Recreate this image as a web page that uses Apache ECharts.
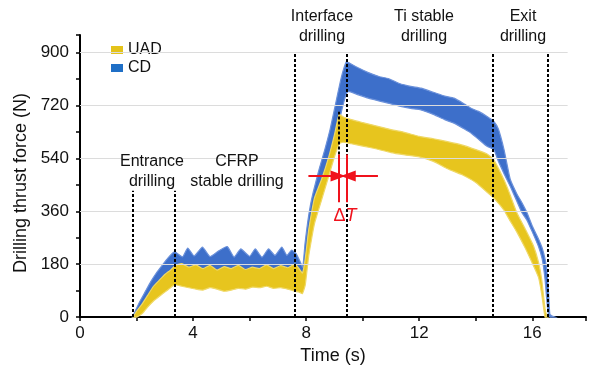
<!DOCTYPE html>
<html><head><meta charset="utf-8">
<script src="https://cdn.jsdelivr.net/npm/echarts@6/dist/echarts.min.js"></script>
<style>html,body{margin:0;padding:0;background:#fff}#c{width:589px;height:370px}</style>
</head><body><div id="c"></div>
<script>
// ---- data ----
const cdT = [1.85,1.95,2.1,2.3,2.5,2.7,2.9,3.1,3.3,3.36,
  3.63,3.81,4.04,4.33,4.6,4.9,5.21,5.45,5.69,6.0,
  6.2,6.44,6.67,6.9,7.14,7.32,7.49,7.65,7.78,7.88,
  7.96,8.05,8.15,8.25,8.45,8.66,8.85,9.02,9.25,9.42,
  9.5,9.8,10.2,10.6,10.9,11.3,11.7,12.06,12.5,12.9,
  13.23,13.6,13.85,14.1,14.4,14.64,14.8,15.0,15.22,15.45,
  15.63,15.81,16.0,16.22,16.35,16.45,16.51,16.57,16.62,16.7,16.8];
const cdUpper = [0,20,50,85,120,150,175,200,220,222,
  205,235,208,238,206,225,240,204,232,207,
  232,204,232,210,238,210,228,215,190,170,
  250,320,380,425,500,570,640,716,818,869,
  866,850,832,818,812,795,785,779,765,752,
  745,725,710,700,683,666,640,570,469,420,
  390,356,310,266,235,198,164,96,10,4,0];
const cdLower = [0,0,10,40,70,100,120,140,155,160,
  155,162,158,160,155,160,158,152,160,155,
  160,152,158,155,160,150,150,130,110,100,
  140,230,300,340,400,460,530,600,700,760,
  768,758,745,735,728,718,710,705,690,672,
  660,640,625,605,581,570,530,488,445,395,
  356,330,290,240,198,130,60,10,0,0,0];

const uadT = [1.88,2.0,2.2,2.4,2.6,2.8,3.0,3.2,3.36,3.6,
  3.85,4.1,4.35,4.6,4.85,5.1,5.35,5.6,5.85,6.1,
  6.35,6.6,6.85,7.1,7.35,7.6,7.75,7.87,7.97,8.08,
  8.2,8.3,8.55,8.8,9.0,9.17,9.3,9.6,10.0,10.5,
  11.0,11.5,12.0,12.5,13.0,13.5,14.0,14.4,14.64,14.99,
  15.2,15.45,15.75,16.04,16.22,16.33,16.45,16.51,16.55];
const uadUpper = [0,20,45,75,105,125,145,160,175,182,
  170,178,165,176,160,172,165,176,162,170,
  165,178,165,175,168,180,165,150,200,290,
  360,407,470,545,620,690,682,672,662,650,
  638,628,615,607,597,586,570,555,535,469,
  420,356,300,243,187,130,29,6,0];
const uadLower = [0,0,12,35,55,70,85,100,110,105,
  100,95,92,100,95,88,92,98,95,102,
  100,105,98,100,95,88,85,80,110,200,
  270,320,400,480,545,590,595,590,582,572,
  560,552,545,530,505,485,458,425,405,365,
  330,290,235,175,135,80,0,0,0];

const seriesNames = ['UAD', 'CD'];
const gridValues = [180, 360, 540, 720, 900];
const phaseT = [1.85, 3.36, 7.61, 9.45, 14.6, 16.54];
const phaseTop = [430, 430, 900, 900, 900, 900];
const deltaT = [9.17, 9.45];       // UAD peak time, CD peak time
const uadPeak = 699;

// ---- styles ----
const FONT = "'Liberation Sans', Arial, sans-serif";
const BLUE = '#3d6fca', YELLOW = '#e7c51e';
const BLUE_LEG = '#1f6fc6', YELLOW_LEG = '#e4c31a';
const RED = '#f0121c';

// band series: polygon between upper and lower envelopes, drawn through api.coord
function bandSeries(name, t, up, lo, color, edge, z) {
  const data = t.map((x, i) => [x, up[i], lo[i]]);
  return {
    type: 'custom', name: name, z: z, silent: true, color: color,
    coordinateSystem: 'cartesian2d',
    encode: {x: 0, y: [1, 2]},
    data: data,
    renderItem: function (params, api) {
      if (params.dataIndex !== 0) return null;
      const pts = [];
      for (let i = 0; i < data.length; i++) pts.push(api.coord([data[i][0], data[i][1]]));
      for (let i = data.length - 1; i >= 0; i--) pts.push(api.coord([data[i][0], data[i][2]]));
      return {
        type: 'polygon', shape: {points: pts, smooth: 0.15},
        style: {fill: color, stroke: edge, lineWidth: 1.2}
      };
    }
  };
}

const chart = echarts.init(document.getElementById('c'), null, {renderer: 'canvas'});

const gridLines = gridValues.map(v => [{coord: [0, v]}, {coord: [17.25, v]}]);
const phaseLines = phaseT.map((t, i) => [{coord: [t, 0]}, {coord: [t, phaseTop[i]]}]);

const annLines = [
  [{coord: [deltaT[0], 553], lineStyle: {color: '#000', type: [3, 2], width: 2}},
   {coord: [deltaT[0], uadPeak]}],
  [{coord: [deltaT[0], 391], lineStyle: {color: RED, type: 'solid', width: 2}}, {coord: [deltaT[0], 553]}],
  [{coord: [deltaT[1], 391], lineStyle: {color: RED, type: 'solid', width: 2}}, {coord: [deltaT[1], 553]}],
  [{coord: [8.08, 480], symbol: 'none', lineStyle: {color: RED, type: 'solid', width: 2}},
   {coord: [deltaT[0] - 0.04, 480], symbol: 'triangle', symbolSize: [11, 15], itemStyle: {color: RED}}],
  [{coord: [10.54, 480], symbol: 'none', lineStyle: {color: RED, type: 'solid', width: 2}},
   {coord: [deltaT[1] + 0.04, 480], symbol: 'triangle', symbolSize: [11, 15], itemStyle: {color: RED}}]
];

const option = {
  animation: false,
  backgroundColor: '#fff',
  textStyle: {fontFamily: FONT},
  grid: {left: 80, right: 0, top: 35, bottom: 51.5},
  legend: {
    data: [{name: 'UAD', itemStyle: {color: YELLOW_LEG}}, {name: 'CD', itemStyle: {color: BLUE_LEG}}],
    orient: 'vertical', left: 111, top: 42, icon: 'rect',
    itemWidth: 12, itemHeight: 8, itemGap: 2, padding: 0,
    textStyle: {fontSize: 16, color: '#111', fontFamily: FONT},
    selectedMode: false
  },
  xAxis: {
    type: 'value', min: 0, max: 17.9, interval: 4,
    name: 'Time (s)', nameLocation: 'middle', nameGap: 29,
    nameTextStyle: {fontSize: 18, color: '#111', fontFamily: FONT},
    axisLine: {show: true, onZero: false, lineStyle: {color: '#000', width: 2}},
    axisTick: {show: true, length: 4, lineStyle: {color: '#000', width: 1.5}},
    minorTick: {show: true, splitNumber: 2, length: 4, lineStyle: {color: '#000', width: 1.5}},
    splitLine: {show: false},
    axisLabel: {fontSize: 17, color: '#111', margin: 8, fontFamily: FONT,
      formatter: v => (v > 16.5 ? '' : String(v))}
  },
  yAxis: {
    type: 'value', min: 0, max: 960, interval: 180,
    name: 'Drilling thrust force (N)', nameLocation: 'middle', nameGap: 50,
    nameTextStyle: {fontSize: 18, color: '#111', fontFamily: FONT, padding: [0, 14, 0, 0]},
    axisLine: {show: true, lineStyle: {color: '#000', width: 2}},
    axisTick: {show: true, length: 4, lineStyle: {color: '#000', width: 1.5}},
    minorTick: {show: true, splitNumber: 2, length: 4, lineStyle: {color: '#000', width: 1.5}},
    splitLine: {show: false},
    axisLabel: {fontSize: 17, color: '#111', margin: 11, fontFamily: FONT,
      formatter: v => (v > 900 ? '' : String(v))}
  },
  series: [
    {
      type: 'line', name: 'grid', data: [], silent: true, z: 1,
      markLine: {silent: true, symbol: 'none', label: {show: false},
        lineStyle: {color: '#dcdcdc', width: 1, type: 'solid'}, data: gridLines, animation: false}
    },
    bandSeries(seriesNames[1], cdT, cdUpper, cdLower, BLUE, '#6a90da', 2),
    bandSeries(seriesNames[0], uadT, uadUpper, uadLower, YELLOW, '#efd865', 3),
    {
      type: 'line', name: 'ann', data: [], silent: true, z: 5,
      markLine: {silent: true, symbol: 'none', label: {show: false}, animation: false,
        lineStyle: {color: '#000', width: 2, type: [3, 2]},
        data: phaseLines.concat(annLines)}
    }
  ],
  graphic: [
    {type: 'text', x: 152, y: 172, z: 10, style: {text: 'Entrance\ndrilling', fill: '#111', font: '16px ' + FONT, align: 'center', verticalAlign: 'middle', lineHeight: 20}},
    {type: 'text', x: 237, y: 172, z: 10, style: {text: 'CFRP\nstable drilling', fill: '#111', font: '16px ' + FONT, align: 'center', verticalAlign: 'middle', lineHeight: 20}},
    {type: 'text', x: 322, y: 27, z: 10, style: {text: 'Interface\ndrilling', fill: '#111', font: '16px ' + FONT, align: 'center', verticalAlign: 'middle', lineHeight: 20}},
    {type: 'text', x: 424, y: 27, z: 10, style: {text: 'Ti stable\ndrilling', fill: '#111', font: '16px ' + FONT, align: 'center', verticalAlign: 'middle', lineHeight: 20}},
    {type: 'text', x: 523, y: 27, z: 10, style: {text: 'Exit\ndrilling', fill: '#111', font: '16px ' + FONT, align: 'center', verticalAlign: 'middle', lineHeight: 20}},
    {type: 'text', x: 345, y: 216, z: 10, style: {
      text: '{a|Δ}{b|T}', align: 'center', verticalAlign: 'middle',
      rich: {a: {fill: RED, font: '18px ' + FONT}, b: {fill: RED, font: 'italic 18px ' + FONT}}}}
  ]
};
chart.setOption(option);
</script>
</body></html>
